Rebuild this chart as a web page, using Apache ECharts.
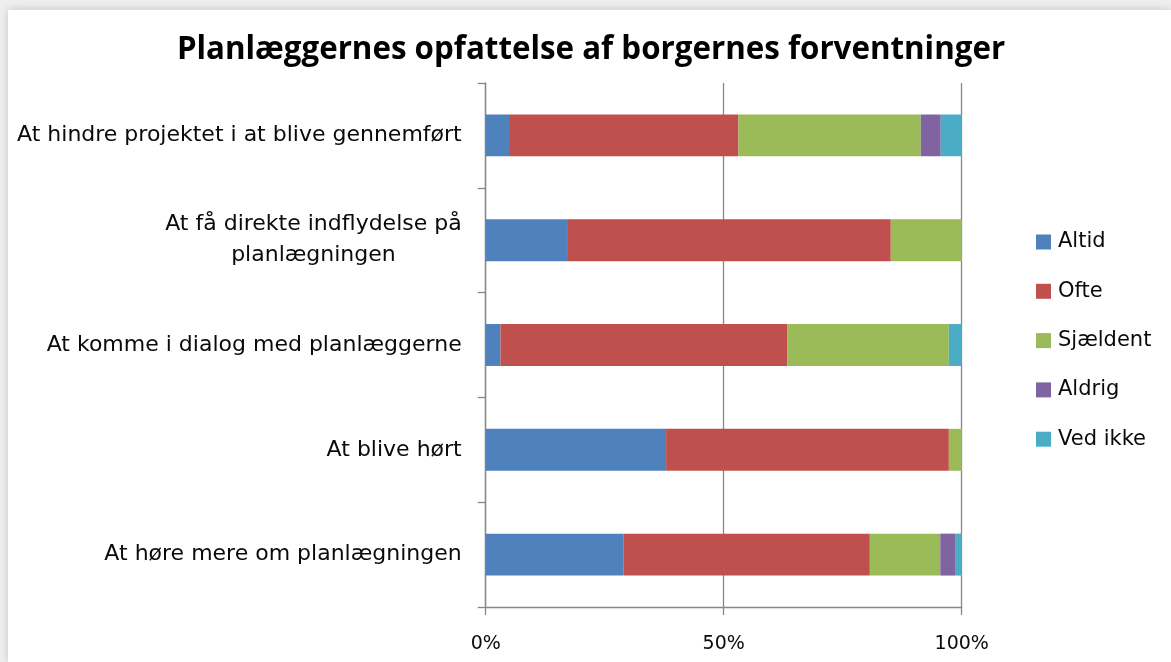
<!DOCTYPE html>
<html>
<head>
<meta charset="utf-8">
<script src="https://cdn.jsdelivr.net/npm/echarts@6/dist/echarts.min.js"></script>
<style>
html,body{margin:0;padding:0;width:1171px;height:662px;background:#efefef;overflow:hidden;}
#card{position:absolute;left:8px;top:10px;width:1163px;height:652px;background:#fff;box-shadow:0 0 9px rgba(0,0,0,0.18);}
#chart{position:absolute;left:0;top:0;width:1171px;height:662px;}
</style>
</head>
<body>
<div id="card"></div>
<div id="chart"></div>
<script>
const titleText = 'Planlæggernes opfattelse af borgernes forventninger';
const categories = [
  'At hindre projektet i at blive gennemført',
  'At få direkte indflydelse på\nplanlægningen',
  'At komme i dialog med planlæggerne',
  'At blive hørt',
  'At høre mere om planlægningen'
];
const seriesNames = ['Altid', 'Ofte', 'Sjældent', 'Aldrig', 'Ved ikke'];
const altid    = [4.9, 17.1, 3.1, 37.9, 29.0];
const ofte     = [48.2, 68.0, 60.3, 59.4, 51.7];
const sjaeldent = [38.3, 14.9, 33.9, 2.7, 14.8];
const aldrig   = [4.2, 0, 0, 0, 3.1];
const vedIkke  = [4.4, 0, 2.7, 0, 1.4];
const xTicks = [0, 50, 100];
const colors = ['#4F81BD', '#C0504D', '#9BBB59', '#8064A2', '#4BACC6'];

const values = [altid, ofte, sjaeldent, aldrig, vedIkke];
const chart = echarts.init(document.getElementById('chart'));
const axisGray = '#878787';
const font = 'DejaVu Sans';
const txt = '#0a0a0a';

chart.setOption({
  animation: false,
  color: colors,
  title: {
    text: titleText,
    left: 591, top: 35, textAlign: 'center', padding: 0,
    textStyle: {fontFamily: 'Open Sans', fontWeight: 'bold', fontSize: 31.3, color: '#000'}
  },
  legend: {
    orient: 'vertical',
    left: 1036, top: 231, padding: 0,
    itemWidth: 15, itemHeight: 15, itemGap: 27.3,
    icon: 'rect',
    data: seriesNames,
    textStyle: {fontFamily: font, fontSize: 21, color: txt, lineHeight: 22, padding: [0,0,0,2]}
  },
  grid: {left: 485.7, right: 209.3, top: 83, bottom: 55, containLabel: false},
  xAxis: {
    type: 'value', min: 0, max: 100, interval: 50,
    axisLine: {show: true, lineStyle: {color: axisGray, width: 1.3}},
    axisTick: {show: true, length: 8, lineStyle: {color: axisGray, width: 1.3}},
    splitLine: {show: true, lineStyle: {color: axisGray, width: 1.3}},
    axisLabel: {
      margin: 28,
      fontFamily: font, fontSize: 19, color: txt,
      formatter: v => xTicks.includes(v) ? v + '%' : ''
    }
  },
  yAxis: {
    type: 'category', inverse: true, data: categories,
    axisLine: {show: true, lineStyle: {color: axisGray, width: 1.3}},
    axisTick: {show: true, length: 8, lineStyle: {color: axisGray, width: 1.3}},
    splitLine: {show: false},
    axisLabel: {
      margin: 24,
      fontFamily: font, fontSize: 22, color: txt, lineHeight: 31,
      formatter: v => v.split('\n').map(s => '{c|' + s + '}').join('\n'),
      rich: {c: {align: 'center', fontFamily: font, fontSize: 22, color: txt, lineHeight: 31}}
    }
  },
  series: seriesNames.map((name, i) => ({
    name: name, type: 'bar', stack: 'total',
    barCategoryGap: '60%',
    data: values[i],
    itemStyle: {color: colors[i]}
  }))
});
</script>
</body>
</html>
